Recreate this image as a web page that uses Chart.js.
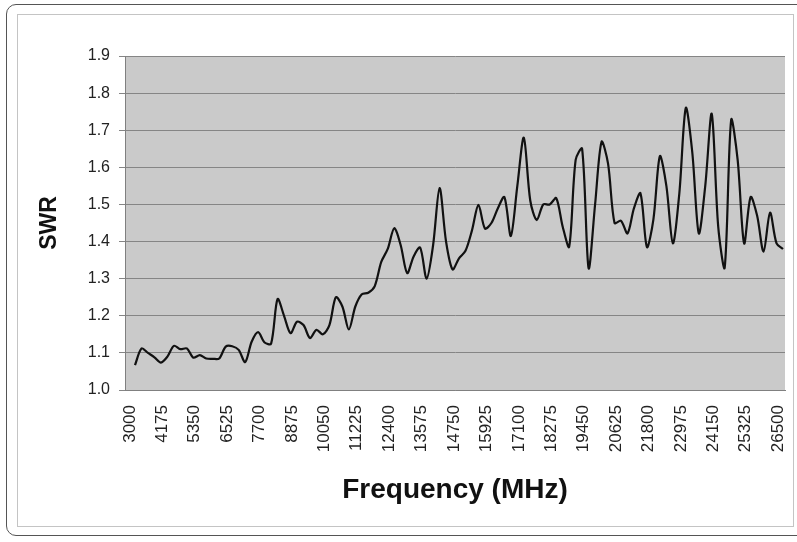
<!DOCTYPE html>
<html>
<head>
<meta charset="utf-8">
<script src="https://cdn.jsdelivr.net/npm/chart.js@4"></script>
<style>
  body { margin: 0; background: #fff; overflow: hidden; }
  #outer { position: absolute; left: 6px; top: 4px; width: 810px; height: 530px; border: 1.5px solid #555; border-radius: 10px; }
  #inner { position: absolute; left: 17px; top: 14px; width: 775px; height: 511px; border: 1px solid #c4c4c4; }
  #swrChart { position: absolute; left: 0; top: 0; }
</style>
</head>
<body>
<div id="outer"></div>
<div id="inner"></div>
<canvas id="swrChart" width="797" height="542"></canvas>
<script>
const frequencies = [
  3000, 3235, 3470, 3705, 3940, 4175, 4410, 4645, 4880, 5115,
  5350, 5585, 5820, 6055, 6290, 6525, 6760, 6995, 7230, 7465,
  7700, 7935, 8170, 8405, 8640, 8875, 9110, 9345, 9580, 9815,
  10050, 10285, 10520, 10755, 10990, 11225, 11460, 11695, 11930, 12165,
  12400, 12635, 12870, 13105, 13340, 13575, 13810, 14045, 14280, 14515,
  14750, 14985, 15220, 15455, 15690, 15925, 16160, 16395, 16630, 16865,
  17100, 17335, 17570, 17805, 18040, 18275, 18510, 18745, 18980, 19215,
  19450, 19685, 19920, 20155, 20390, 20625, 20860, 21095, 21330, 21565,
  21800, 22035, 22270, 22505, 22740, 22975, 23210, 23445, 23680, 23915,
  24150, 24385, 24620, 24855, 25090, 25325, 25560, 25795, 26030, 26265,
  26500
];

const swr = [
  1.067, 1.112, 1.100, 1.088, 1.074, 1.090, 1.119, 1.110, 1.112, 1.087,
  1.094, 1.085, 1.084, 1.085, 1.117, 1.118, 1.108, 1.075, 1.130, 1.156,
  1.128, 1.125, 1.245, 1.200, 1.153, 1.184, 1.175, 1.140, 1.162, 1.150,
  1.175, 1.250, 1.225, 1.163, 1.225, 1.258, 1.262, 1.280, 1.345, 1.380,
  1.436, 1.390, 1.315, 1.360, 1.384, 1.300, 1.390, 1.544, 1.400, 1.325,
  1.355, 1.375, 1.430, 1.499, 1.435, 1.450, 1.490, 1.520, 1.415, 1.550,
  1.680, 1.510, 1.458, 1.500, 1.500, 1.517, 1.440, 1.386, 1.620, 1.650,
  1.328, 1.500, 1.669, 1.610, 1.450, 1.456, 1.422, 1.490, 1.530, 1.385,
  1.460, 1.630, 1.550, 1.395, 1.530, 1.760, 1.640, 1.422, 1.550, 1.744,
  1.440, 1.330, 1.728, 1.620, 1.395, 1.520, 1.470, 1.373, 1.478, 1.395,
  1.380
];

const freqTicks = [
  3000, 4175, 5350, 6525, 7700, 8875, 10050, 11225, 12400, 13575, 14750,
  15925, 17100, 18275, 19450, 20625, 21800, 22975, 24150, 25325, 26500
];

const FONT = "'Liberation Sans', Arial, sans-serif";

// gray plot area like the old Excel charts
const plotBackground = {
  id: 'plotBackground',
  beforeDraw(chart) {
    const { ctx, chartArea } = chart;
    ctx.save();
    ctx.fillStyle = '#cacaca';
    ctx.fillRect(chartArea.left, chartArea.top, chartArea.right - chartArea.left, chartArea.bottom - chartArea.top);
    ctx.restore();
  }
};

const points = frequencies.map((f, i) => ({ x: f, y: swr[i] }));

new Chart(document.getElementById('swrChart'), {
  type: 'line',
  data: {
    datasets: [{
      label: 'SWR',
      data: points,
      borderColor: '#111',
      borderWidth: 2.2,
      pointRadius: 0,
      tension: 0.3,
      fill: false
    }]
  },
  options: {
    responsive: false,
    animation: false,
    devicePixelRatio: 1,
    layout: { padding: { left: 36, top: 56, right: 12, bottom: 35 } },
    plugins: { legend: { display: false }, tooltip: { enabled: false } },
    scales: {
      x: {
        type: 'linear',
        min: 2637,
        max: 26572,
        afterBuildTicks: (scale) => { scale.ticks = freqTicks.map(v => ({ value: v })); },
        afterFit: (scale) => {
          scale.height = 117;
          scale.paddingLeft = 0;
          scale.paddingRight = 0;
        },
        grid: { display: false },
        border: { display: true, color: '#808080', width: 1 },
        ticks: {
          autoSkip: false,
          minRotation: 90,
          maxRotation: 90,
          padding: 7,
          labelOffset: -5,
          color: '#222',
          font: { family: FONT, size: 17 },
          callback: (v) => String(v)
        },
        title: {
          display: true,
          text: 'Frequency (MHz)',
          color: '#111',
          padding: 0,
          font: { family: FONT, size: 28, weight: 'bold' }
        }
      },
      y: {
        min: 1.0,
        max: 1.9,
        afterFit: (scale) => { scale.width = 89; },
        grid: { color: '#858585', lineWidth: 1, tickLength: 6 },
        border: { display: true, color: '#808080', width: 1 },
        ticks: {
          stepSize: 0.1,
          padding: 9,
          color: '#222',
          font: { family: FONT, size: 16 },
          callback: (v) => Number(v).toFixed(1)
        },
        title: {
          display: true,
          text: 'SWR',
          color: '#111',
          padding: 0,
          font: { family: FONT, size: 23, weight: 'bold' }
        }
      }
    }
  },
  plugins: [plotBackground]
});
</script>
</body>
</html>
